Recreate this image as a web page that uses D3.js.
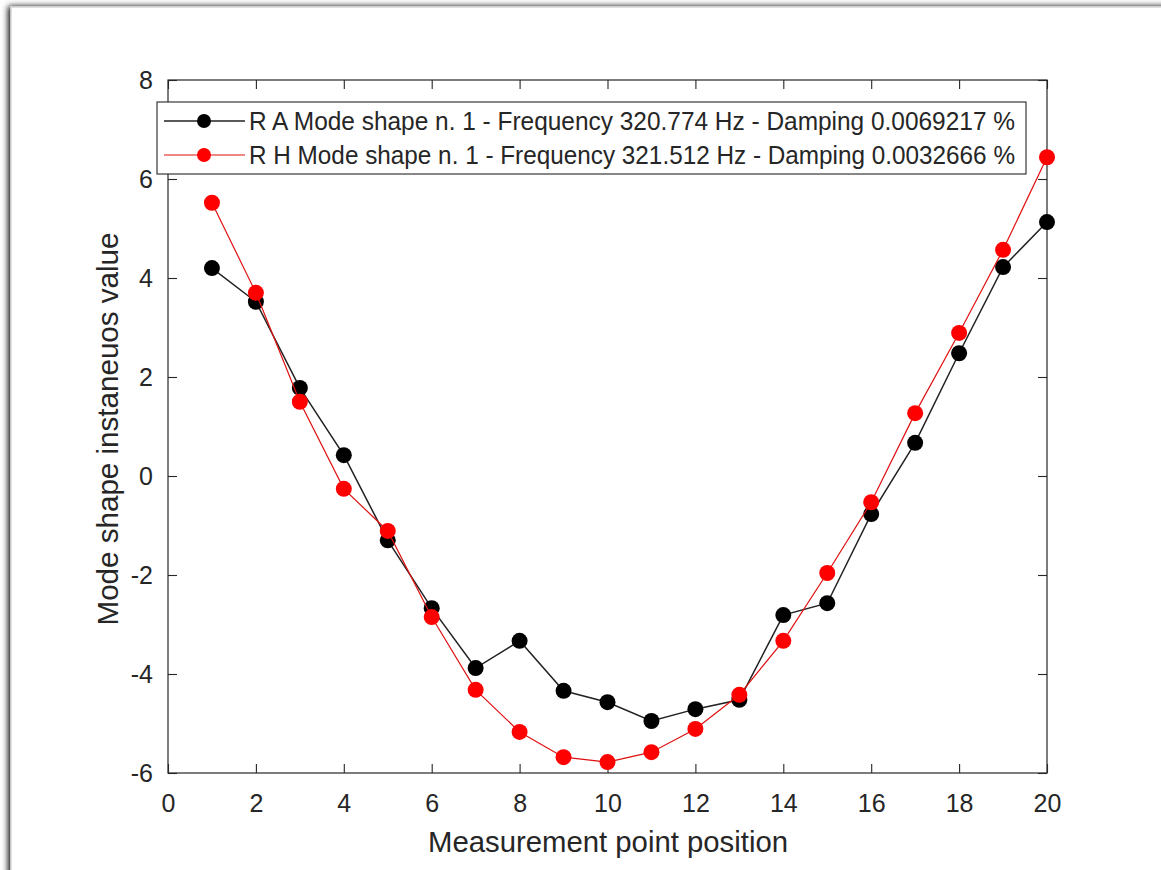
<!DOCTYPE html>
<html><head><meta charset="utf-8">
<script src="https://cdn.jsdelivr.net/npm/d3@7"></script>
<style>html,body{margin:0;padding:0;background:#fff;}svg{display:block;}</style>
</head><body>
<svg id="chart" width="1161" height="870"></svg>
<script>
const positions = [1,2,3,4,5,6,7,8,9,10,11,12,13,14,15,16,17,18,19,20];
const seriesRA = [4.2,3.52,1.78,0.42,-1.3,-2.67,-3.88,-3.33,-4.34,-4.57,-4.95,-4.71,-4.52,-2.81,-2.57,-0.77,0.67,2.48,4.22,5.13];
const seriesRH = [5.52,3.70,1.5,-0.26,-1.11,-2.85,-4.32,-5.17,-5.68,-5.78,-5.58,-5.11,-4.42,-3.33,-1.96,-0.53,1.27,2.89,4.57,6.44];
const xTicks = [0,2,4,6,8,10,12,14,16,18,20];
const yTicks = [-6,-4,-2,0,2,4,6,8];
const seriesNames = [
  "R A Mode shape n. 1 - Frequency 320.774 Hz - Damping 0.0069217 %",
  "R H Mode shape n. 1 - Frequency 321.512 Hz - Damping 0.0032666 %"
];
const seriesColors = ["#000000", "#ff0000"];
const xLabel = "Measurement point position";
const yLabel = "Mode shape instaneuos value";

const svg = d3.select("#chart");
const font = "'Liberation Sans', Arial, sans-serif";
const axisColor = "#262626";

// outer frame with shadow
const defs = svg.append("defs");
const f = defs.append("filter").attr("id","sh").attr("x","-5%").attr("y","-5%").attr("width","110%").attr("height","110%");
f.append("feGaussianBlur").attr("in","SourceAlpha").attr("stdDeviation",3);
f.append("feOffset").attr("dx",-2).attr("dy",0).attr("result","b");
const fm = f.append("feMerge"); fm.append("feMergeNode").attr("in","b"); fm.append("feMergeNode").attr("in","SourceGraphic");
svg.append("rect").attr("x",11).attr("y",7).attr("width",1160).attr("height",880)
  .attr("fill","#fff").attr("stroke","#d6d6d6").attr("stroke-width",1.5).attr("filter","url(#sh)");

const L = 168, R = 1047, T = 80, B = 773;
const x = d3.scaleLinear().domain([0,20]).range([L,R]);
const y = d3.scaleLinear().domain([-6,8]).range([B,T]);

const g = svg.append("g");

g.append("rect").attr("x",L).attr("y",T).attr("width",R-L).attr("height",B-T)
  .attr("fill","#fff").attr("stroke",axisColor).attr("stroke-width",1.2);

function styleAxis(sel){
  sel.select(".domain").remove();
  sel.selectAll(".tick line").attr("stroke",axisColor).attr("stroke-width",1.1);
  sel.selectAll("text").attr("fill","#262626").style("font-family",font).style("font-size","25px");
}
const fmt = d => String(d);
const xb = g.append("g").attr("transform",`translate(0,${B})`)
  .call(d3.axisBottom(x).tickValues(xTicks).tickSize(-9).tickPadding(21).tickFormat(fmt));
styleAxis(xb);
const xt = g.append("g").attr("transform",`translate(0,${T})`)
  .call(d3.axisTop(x).tickValues(xTicks).tickSize(-9).tickFormat(""));
styleAxis(xt);
const yl = g.append("g").attr("transform",`translate(${L},0)`)
  .call(d3.axisLeft(y).tickValues(yTicks).tickSize(-9).tickPadding(15).tickFormat(fmt));
styleAxis(yl);
const yr = g.append("g").attr("transform",`translate(${R},0)`)
  .call(d3.axisRight(y).tickValues(yTicks).tickSize(-9).tickFormat(""));
styleAxis(yr);

// legend (drawn beneath the data)
const lg = g.append("g");
lg.append("rect").attr("x",157).attr("y",102).attr("width",869).attr("height",72)
  .attr("fill","#fff").attr("stroke",axisColor).attr("stroke-width",1.1);
seriesNames.forEach((name,i)=>{
  const yy = 121 + i*34;
  lg.append("line").attr("x1",164).attr("x2",245).attr("y1",yy).attr("y2",yy)
    .attr("stroke", i===0 ? "#222" : "#e01010").attr("stroke-width", i===0?1.5:1.2);
  lg.append("circle").attr("cx",204).attr("cy",yy).attr("r",7).attr("fill",seriesColors[i]);
  lg.append("text").attr("x",249).attr("y",yy).attr("dy","0.36em")
    .attr("textLength",766).attr("lengthAdjust","spacingAndGlyphs")
    .style("font-family",font).style("font-size","25px").attr("fill","#262626").text(name);
});

// axis titles
svg.append("text").attr("x",608).attr("y",852).attr("text-anchor","middle")
  .attr("textLength",360).attr("lengthAdjust","spacingAndGlyphs")
  .style("font-family",font).style("font-size","29px").attr("fill","#262626").text(xLabel);
svg.append("text").attr("transform",`translate(118,429) rotate(-90)`).attr("text-anchor","middle")
  .attr("textLength",393).attr("lengthAdjust","spacingAndGlyphs")
  .style("font-family",font).style("font-size","29px").attr("fill","#262626").text(yLabel);

// series
const series = [seriesRA, seriesRH];
const line = d3.line().x(d=>x(d[0])).y(d=>y(d[1]));
series.forEach((vals,i)=>{
  const pts = positions.map((p,j)=>[p,vals[j]]);
  const sg = g.append("g");
  sg.append("path").datum(pts).attr("d",line).attr("fill","none")
    .attr("stroke", i===0 ? "#222" : "#e01010").attr("stroke-width", i===0 ? 1.5 : 1.2);
  sg.selectAll("circle").data(pts).join("circle")
    .attr("cx",d=>x(d[0])).attr("cy",d=>y(d[1])).attr("r",8)
    .attr("fill",seriesColors[i]);
});
</script>
</body></html>
